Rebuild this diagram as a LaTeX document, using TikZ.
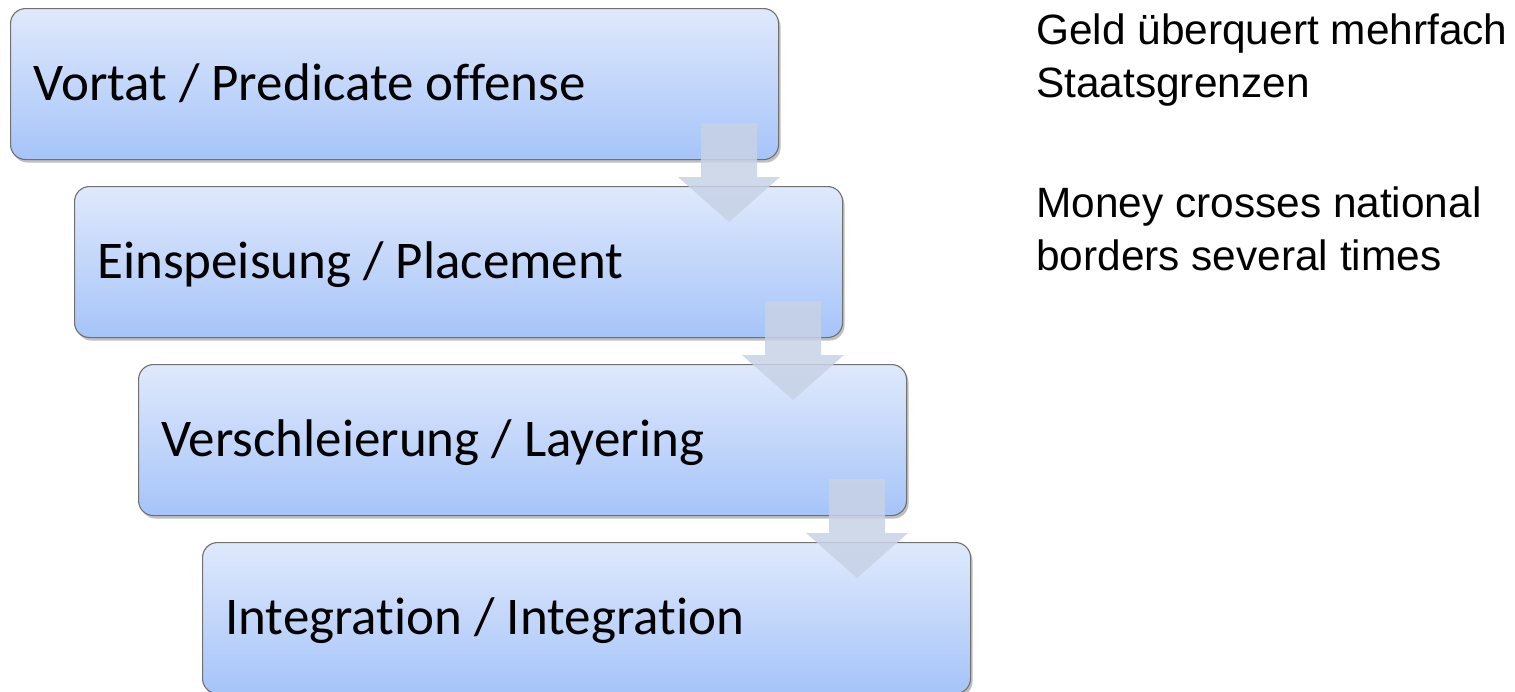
\documentclass[tikz,border=0pt]{standalone}
\usepackage{fontspec}
\setmainfont{Carlito}[Ligatures={NoCommon}]
\newfontfamily\arialfont{Liberation Sans}
\usetikzlibrary{shadows}
\definecolor{boxtop}{HTML}{DFE9FC}
\definecolor{boxbot}{HTML}{A6C4F9}
\definecolor{boxline}{HTML}{707070}
\definecolor{arrowfill}{HTML}{C8D2E6}
\tikzset{
  stagebox/.style={rectangle, rounded corners=15pt, draw=boxline, line width=1.1pt,
    top color=boxtop, bottom color=boxbot, minimum width=768pt, minimum height=151pt,
    anchor=north west, inner sep=0pt,
    drop shadow={shadow xshift=2pt, shadow yshift=-3pt, opacity=0.25, fill=black}},
  stagetext/.style={anchor=base west, font=\fontsize{53}{60}\selectfont, inner sep=0pt},
  downarrow/.style={fill=arrowfill, fill opacity=0.85, draw=none},
  sidetext/.style={anchor=base west, align=left, inner sep=0pt,
    font=\arialfont\fontsize{42.4}{53}\selectfont}
}
\begin{document}
\begin{tikzpicture}[x=1pt,y=-1pt]
\useasboundingbox (0,0) rectangle (1515,691);
\node[stagebox] (b1) at (10,8) {};
\node[stagebox] (b2) at (74,186) {};
\node[stagebox] (b3) at (138,364) {};
\node[stagebox] (b4) at (202,542) {};
\node[stagetext] (t1) at (33,100) {Vortat / Predicate offense};
\node[stagetext] (t2) at (97,278) {Einspeisung / Placement};
\node[stagetext] (t3) at (161,456) {Verschleierung / Layering};
\node[stagetext] (t4) at (225,634) {Integration / Integration};
\foreach \i in {0,1,2}{
  \fill[downarrow] ({701+64*\i},{123+178*\i}) -- ({757+64*\i},{123+178*\i})
    -- ({757+64*\i},{177+178*\i}) -- ({780+64*\i},{177+178*\i})
    -- ({729+64*\i},{222+178*\i}) -- ({678+64*\i},{177+178*\i})
    -- ({701+64*\i},{177+178*\i}) -- cycle;
}
\node[sidetext] (s1) at (1036,97) {Geld überquert mehrfach\\Staatsgrenzen};
\node[sidetext] (s2) at (1036,270) {Money crosses national\\borders several times};
\end{tikzpicture}
\end{document}
